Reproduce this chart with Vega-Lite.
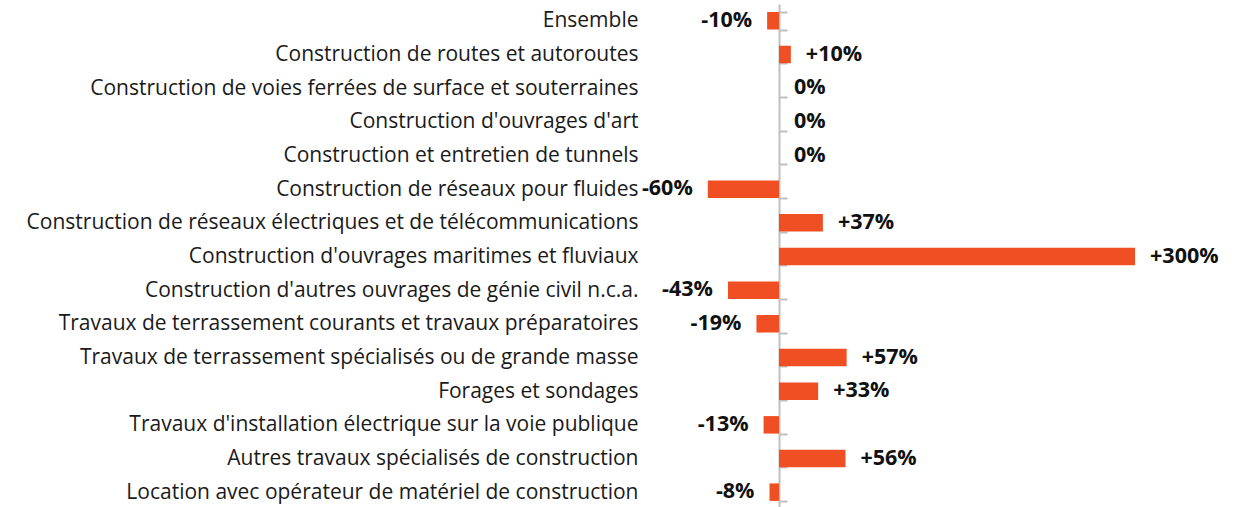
{
  "$schema": "https://vega.github.io/schema/vega-lite/v6.json",
  "autosize": {"type": "none"},
  "padding": {"left": 645, "top": 4, "right": 0, "bottom": 0},
  "width": 592,
  "height": 505,
  "background": "white",
  "config": {"view": {"stroke": null}},
  "data": {
    "values": [
      {"cat": "Ensemble", "v": -10, "label": "-10%"},
      {"cat": "Construction de routes et autoroutes", "v": 10, "label": "+10%"},
      {"cat": "Construction de voies ferrées de surface et souterraines", "v": 0, "label": "0%"},
      {"cat": "Construction d'ouvrages d'art", "v": 0, "label": "0%"},
      {"cat": "Construction et entretien de tunnels", "v": 0, "label": "0%"},
      {"cat": "Construction de réseaux pour fluides", "v": -60, "label": "-60%"},
      {"cat": "Construction de réseaux électriques et de télécommunications", "v": 37, "label": "+37%"},
      {"cat": "Construction d'ouvrages maritimes et fluviaux", "v": 300, "label": "+300%"},
      {"cat": "Construction d'autres ouvrages de génie civil n.c.a.", "v": -43, "label": "-43%"},
      {"cat": "Travaux de terrassement courants et travaux préparatoires", "v": -19, "label": "-19%"},
      {"cat": "Travaux de terrassement spécialisés ou de grande masse", "v": 57, "label": "+57%"},
      {"cat": "Forages et sondages", "v": 33, "label": "+33%"},
      {"cat": "Travaux d'installation électrique sur la voie publique", "v": -13, "label": "-13%"},
      {"cat": "Autres travaux spécialisés de construction", "v": 56, "label": "+56%"},
      {"cat": "Location avec opérateur de matériel de construction", "v": -8, "label": "-8%"}
    ]
  },
  "encoding": {
    "y": {
      "field": "cat",
      "type": "nominal",
      "sort": null,
      "title": null,
      "scale": {"paddingInner": 0.48, "paddingOuter": 0.24},
      "axis": {
        "orient": "left",
        "offset": -134,
        "domainColor": "#c0c0c0",
        "domainWidth": 2,
        "tickColor": "#c0c0c0",
        "tickWidth": 2,
        "tickSize": -8,
        "tickBand": "extent",
        "labelPadding": 149,
        "labelFont": "Open Sans",
        "labelFontSize": 21,
        "labelColor": "#1a1a1a",
        "labelLimit": 800,
        "grid": false
      }
    },
    "x": {
      "field": "v",
      "type": "quantitative",
      "scale": {"domain": [-112.9, 385.9], "nice": false, "zero": false},
      "axis": null
    }
  },
  "layer": [
    {"mark": {"type": "bar", "color": "#F04E23"}, "encoding": {"x2": {"datum": 0}}},
    {
      "transform": [{"filter": "datum.v < 0"}],
      "mark": {"type": "text", "align": "right", "baseline": "middle", "dx": -15, "font": "Open Sans", "fontSize": 21.5, "fontWeight": "bold", "color": "#111111"},
      "encoding": {"text": {"field": "label"}}
    },
    {
      "transform": [{"filter": "datum.v >= 0"}],
      "mark": {"type": "text", "align": "left", "baseline": "middle", "dx": 15, "font": "Open Sans", "fontSize": 21.5, "fontWeight": "bold", "color": "#111111"},
      "encoding": {"text": {"field": "label"}}
    }
  ]
}
